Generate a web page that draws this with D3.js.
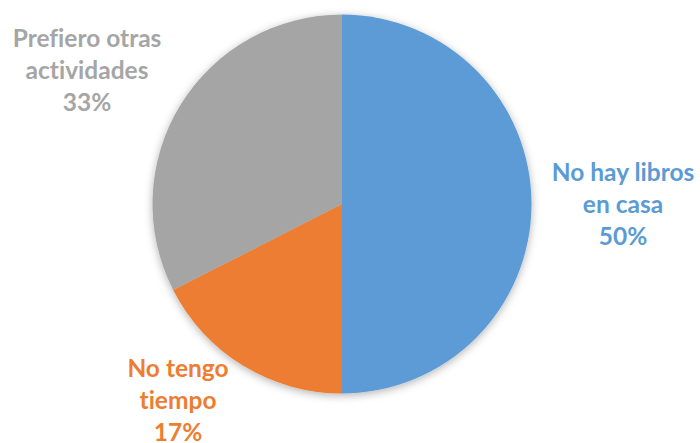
<!DOCTYPE html>
<html>
<head>
<meta charset="utf-8">
<script src="https://cdn.jsdelivr.net/npm/d3@7"></script>
<style>
  html, body { margin: 0; padding: 0; background: #fff; }
  svg { display: block; }
  text { font-variant-ligatures: none; }
</style>
</head>
<body>
<div id="chart"></div>
<script>
// Datos

let categorias = ['No hay libros en casa', 'No tengo tiempo', 'Prefiero otras actividades'];
let valores = [50, 17.5, 32.5];
let porcentajes = ['50%', '17%', '33%'];
let lineas = [['No hay libros', 'en casa'], ['No tengo', 'tiempo'], ['Prefiero otras', 'actividades']];
let colores = ['#5B9BD5', '#ED7D31', '#A5A5A5'];

// Canvas

let width = 700;
let height = 443;
let cx = 342, cy = 204, radio = 189.5;

// posición de los rótulos (centro de la primera línea, línea base)
let rotulo_pos = [[623, 181], [178, 377], [87, 47]];

let svg = d3.select('#chart')
    .append('svg')
    .attr('width', width)
    .attr('height', height);

// sombra suave
let defs = svg.append('defs');
let filtro = defs.append('filter')
    .attr('id', 'sombra')
    .attr('x', '-20%').attr('y', '-20%')
    .attr('width', '140%').attr('height', '140%');
filtro.append('feDropShadow')
    .attr('dx', 0).attr('dy', 2)
    .attr('stdDeviation', 4)
    .attr('flood-color', '#000')
    .attr('flood-opacity', 0.3);

let pie = d3.pie().sort(null).value(d => d);
let arc = d3.arc().innerRadius(0).outerRadius(radio);

let g = svg.append('g')
    .attr('transform', `translate(${cx},${cy})`)
    .attr('filter', 'url(#sombra)');

g.selectAll('path')
    .data(pie(valores))
    .enter()
    .append('path')
    .attr('d', arc)
    .attr('fill', (d, i) => colores[i]);

// Rótulos

let rotulos = svg.selectAll('text.rotulo')
    .data(categorias)
    .enter()
    .append('text')
    .attr('class', 'rotulo')
    .attr('x', (d, i) => rotulo_pos[i][0])
    .attr('y', (d, i) => rotulo_pos[i][1])
    .attr('text-anchor', 'middle')
    .attr('font-family', 'Lato, "Open Sans", sans-serif')
    .attr('font-weight', 'bold')
    .attr('font-size', 24.5)
    .attr('fill', (d, i) => colores[i]);

rotulos.each(function(d, i) {
    let t = d3.select(this);
    let textos = lineas[i].concat([porcentajes[i]]);
    textos.forEach((s, j) => {
        t.append('tspan')
            .attr('x', rotulo_pos[i][0])
            .attr('dy', j === 0 ? 0 : 32)
            .text(s);
    });
});
</script>
</body>
</html>
